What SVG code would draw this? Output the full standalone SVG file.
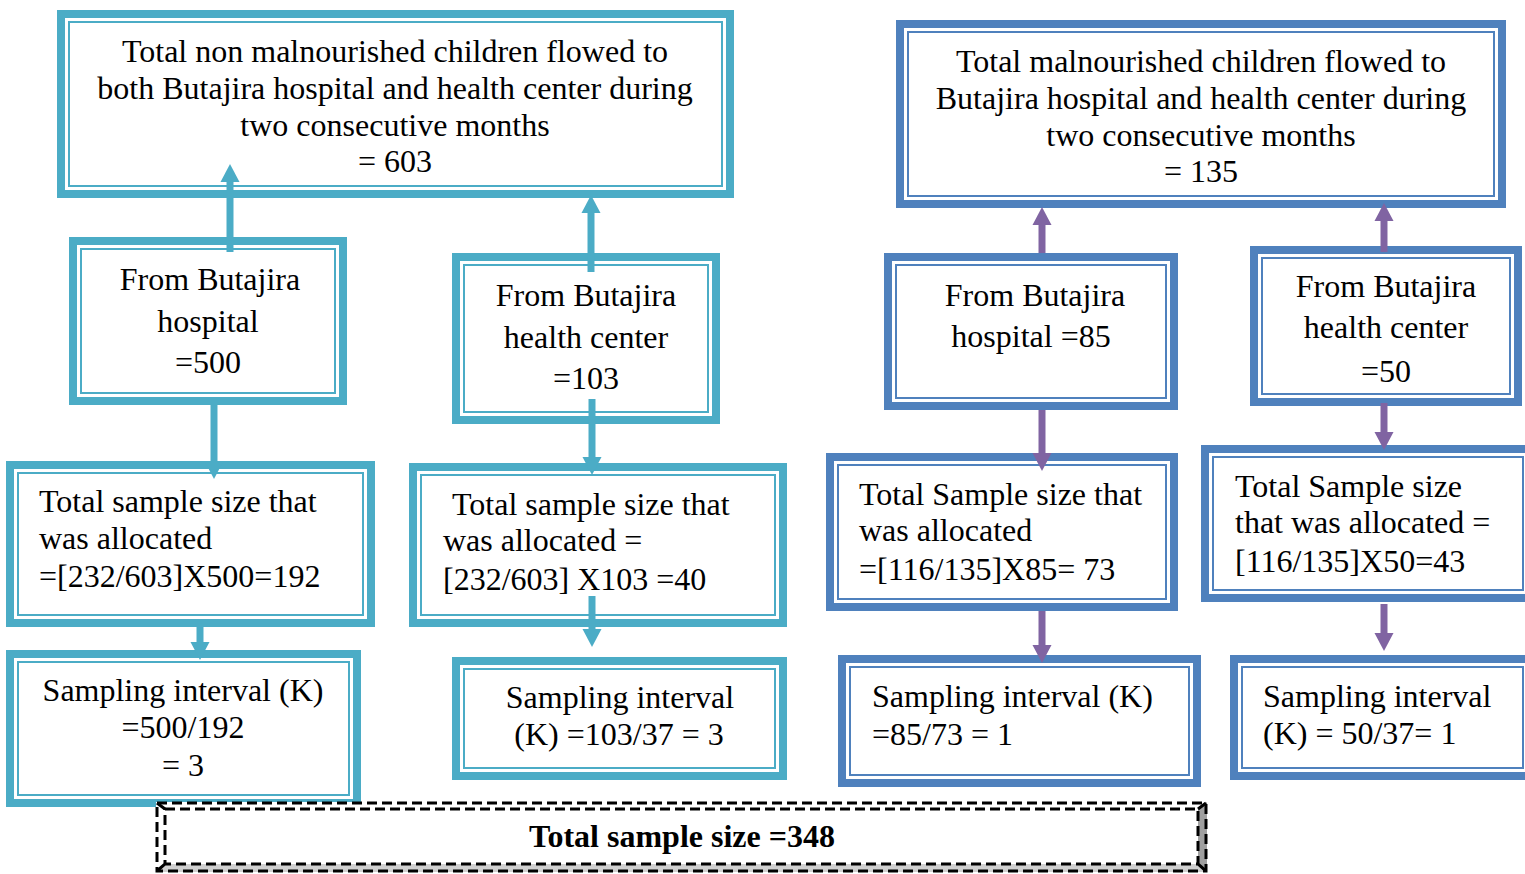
<svg xmlns="http://www.w3.org/2000/svg" width="1525" height="874" viewBox="0 0 1525 874">
<style>
  .tk { fill: #ffffff; stroke-width: 8; }
  .tn { fill: none; stroke-width: 2; }
  .teal .tk, .teal .tn { stroke: #4BACC6; }
  .blue .tk, .blue .tn { stroke: #4F81BD; }
  text { font-family: "Liberation Serif", "Times New Roman", serif; font-size: 32px; fill: #000000; }
  .c { text-anchor: middle; }
  .b { font-weight: bold; }
  .at { stroke: #4BACC6; stroke-width: 7; fill: none; marker-end: url(#ht); }
  .ap { stroke: #8064A2; stroke-width: 7; fill: none; marker-end: url(#hp); }
  .d { fill: none; stroke: #000000; stroke-width: 3; stroke-dasharray: 10 5; }
</style>
<defs>
  <marker id="ht" markerUnits="userSpaceOnUse" markerWidth="18" markerHeight="19" refX="0" refY="9.5" orient="auto" overflow="visible">
    <path d="M0,0 L18,9.5 L0,19 z" fill="#4BACC6"/>
  </marker>
  <marker id="hp" markerUnits="userSpaceOnUse" markerWidth="18" markerHeight="19" refX="0" refY="9.5" orient="auto" overflow="visible">
    <path d="M0,0 L18,9.5 L0,19 z" fill="#8064A2"/>
  </marker>
</defs>
<rect width="1525" height="874" fill="#ffffff"/>

<g id="nodeA" class="teal">
  <rect class="tk" x="61" y="14" width="669" height="180"/>
  <rect class="tn" x="69" y="22" width="653" height="164"/>
  <text class="c" x="395" y="62">Total non malnourished children flowed to</text>
  <text class="c" x="395" y="99">both Butajira hospital and health center during</text>
  <text class="c" x="395" y="136">two consecutive months</text>
  <text class="c" x="395" y="172">= 603</text>
</g>
<g id="nodeB" class="teal">
  <rect class="tk" x="73" y="241" width="270" height="160"/>
  <rect class="tn" x="81" y="249" width="254" height="144"/>
  <text class="c" x="210" y="290">From Butajira</text>
  <text class="c" x="208" y="332">hospital</text>
  <text class="c" x="208" y="373">=500</text>
</g>
<g id="nodeC" class="teal">
  <rect class="tk" x="456" y="257" width="260" height="163"/>
  <rect class="tn" x="464" y="265" width="244" height="147"/>
  <text class="c" x="586" y="306">From Butajira</text>
  <text class="c" x="586" y="348">health center</text>
  <text class="c" x="586" y="389">=103</text>
</g>
<g id="nodeD" class="teal">
  <rect class="tk" x="10" y="465" width="361" height="158"/>
  <rect class="tn" x="18" y="473" width="345" height="142"/>
  <text x="39" y="512">Total sample size that</text>
  <text x="39" y="549">was allocated</text>
  <text x="39" y="587">=[232/603]X500=192</text>
</g>
<g id="nodeE" class="teal">
  <rect class="tk" x="413" y="467" width="370" height="156"/>
  <rect class="tn" x="421" y="475" width="354" height="140"/>
  <text x="452" y="515">Total sample size that</text>
  <text x="443" y="551">was allocated =</text>
  <text x="443" y="590">[232/603] X103 =40</text>
</g>
<g id="nodeF" class="teal">
  <rect class="tk" x="10" y="654" width="347" height="149"/>
  <rect class="tn" x="18" y="662" width="331" height="133"/>
  <text class="c" x="183" y="701">Sampling interval (K)</text>
  <text class="c" x="183" y="738">=500/192</text>
  <text class="c" x="183" y="776">= 3</text>
</g>
<g id="nodeG" class="teal">
  <rect class="tk" x="456" y="661" width="327" height="115"/>
  <rect class="tn" x="464" y="669" width="311" height="99"/>
  <text class="c" x="620" y="708">Sampling interval</text>
  <text class="c" x="619" y="745">(K) =103/37 = 3</text>
</g>

<g id="nodeH" class="blue">
  <rect class="tk" x="900" y="24" width="602" height="180"/>
  <rect class="tn" x="908" y="32" width="586" height="164"/>
  <text class="c" x="1201" y="72">Total malnourished children flowed to</text>
  <text class="c" x="1201" y="109">Butajira hospital and health center during</text>
  <text class="c" x="1201" y="146">two consecutive months</text>
  <text class="c" x="1201" y="182">= 135</text>
</g>
<g id="nodeI" class="blue">
  <rect class="tk" x="888" y="257" width="286" height="149"/>
  <rect class="tn" x="896" y="265" width="270" height="133"/>
  <text class="c" x="1035" y="306">From Butajira</text>
  <text class="c" x="1031" y="347">hospital =85</text>
</g>
<g id="nodeJ" class="blue">
  <rect class="tk" x="1254" y="250" width="264" height="152"/>
  <rect class="tn" x="1262" y="258" width="248" height="136"/>
  <text class="c" x="1386" y="297">From Butajira</text>
  <text class="c" x="1386" y="338">health center</text>
  <text class="c" x="1386" y="382">=50</text>
</g>
<g id="nodeK" class="blue">
  <rect class="tk" x="830" y="457" width="344" height="150"/>
  <rect class="tn" x="838" y="465" width="328" height="134"/>
  <text x="859" y="505">Total Sample size that</text>
  <text x="859" y="541">was allocated</text>
  <text x="859" y="580">=[116/135]X85= 73</text>
</g>
<g id="nodeL" class="blue">
  <rect class="tk" x="1205" y="449" width="326" height="149"/>
  <rect class="tn" x="1213" y="457" width="310" height="133"/>
  <text x="1235" y="497">Total Sample size</text>
  <text x="1235" y="533">that was allocated =</text>
  <text x="1235" y="572">[116/135]X50=43</text>
</g>
<g id="nodeM" class="blue">
  <rect class="tk" x="842" y="659" width="355" height="124"/>
  <rect class="tn" x="850" y="667" width="339" height="108"/>
  <text x="872" y="707">Sampling interval (K)</text>
  <text x="872" y="745">=85/73 = 1</text>
</g>
<g id="nodeN" class="blue">
  <rect class="tk" x="1234" y="659" width="297" height="117"/>
  <rect class="tn" x="1242" y="667" width="281" height="101"/>
  <text x="1263" y="707">Sampling interval</text>
  <text x="1263" y="744">(K) = 50/37= 1</text>
</g>

<g id="connectors">
  <line class="at" x1="230" y1="252" x2="230" y2="182"/>
  <line class="at" x1="591" y1="272" x2="591" y2="213"/>
  <line class="at" x1="214" y1="405" x2="214" y2="461"/>
  <line class="at" x1="200" y1="627" x2="200" y2="642"/>
  <line class="at" x1="592" y1="399" x2="592" y2="457"/>
  <line class="at" x1="592" y1="596" x2="592" y2="629"/>
  <line class="ap" x1="1042" y1="253" x2="1042" y2="225"/>
  <line class="ap" x1="1384" y1="252" x2="1384" y2="221"/>
  <line class="ap" x1="1042" y1="410" x2="1042" y2="453"/>
  <line class="ap" x1="1384" y1="403" x2="1384" y2="432"/>
  <line class="ap" x1="1042" y1="611" x2="1042" y2="645"/>
  <line class="ap" x1="1384" y1="604" x2="1384" y2="633"/>
</g>

<g id="total">
  <rect x="156" y="802" width="1051" height="70" fill="#ffffff"/>
  <polygon points="156,872 1207,872 1198,864 165,864" fill="#d0d0d0"/>
  <polygon points="1207,802 1207,872 1198,864 1198,809" fill="#a0a0a0"/>
  <rect class="d" x="157" y="803" width="1049" height="68"/>
  <rect class="d" x="165" y="809" width="1033" height="55"/>
  <path class="d" d="M157,803 L165,809 M1206,803 L1198,809 M157,871 L165,864 M1206,871 L1198,864"/>
  <text class="c b" x="682" y="847">Total sample size =348</text>
</g>
</svg>
